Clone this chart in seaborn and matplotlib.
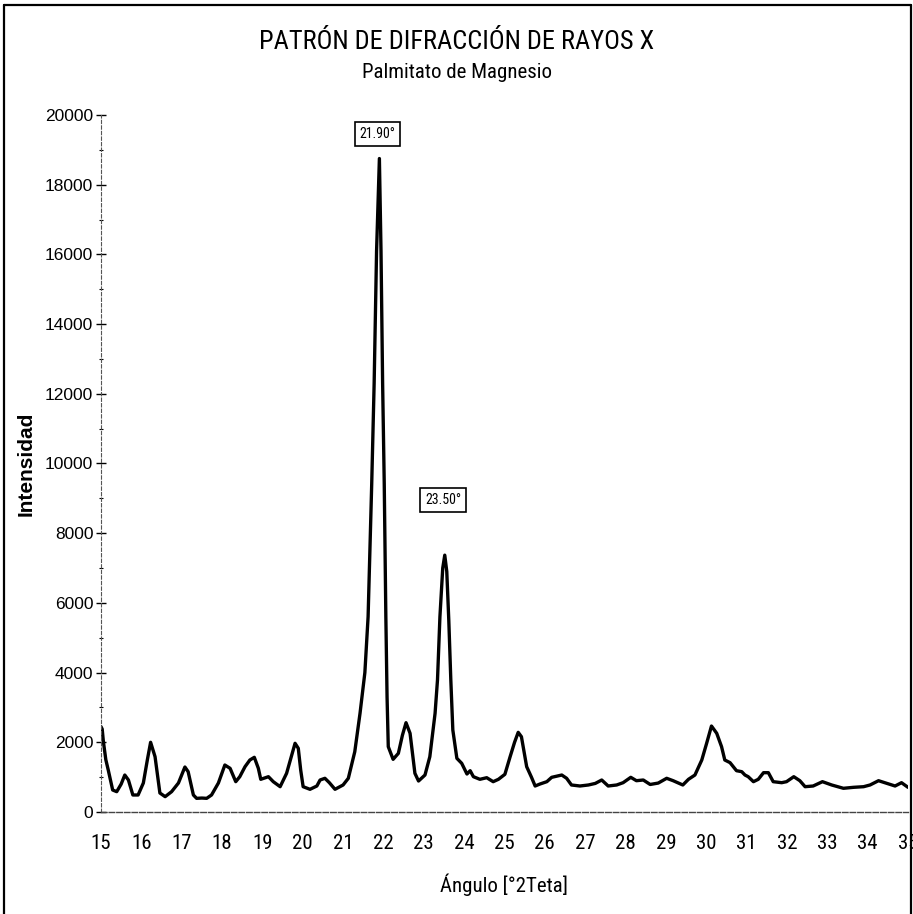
import matplotlib
matplotlib.use("Agg")
import matplotlib.pyplot as plt
from matplotlib import font_manager
from matplotlib.font_manager import FontProperties
from matplotlib.lines import Line2D
from matplotlib.ticker import MultipleLocator
import pandas as pd
import seaborn as sns

# Diffractogram of magnesium palmitate (2-theta in degrees, counts)
angulo = [
    15.00, 15.03, 15.06, 15.12, 15.18, 15.29, 15.39, 15.50, 15.59, 15.68,
    15.79, 15.92, 16.05, 16.15, 16.23, 16.34, 16.46, 16.59, 16.75, 16.92,
    17.08, 17.16, 17.29, 17.37, 17.50, 17.62, 17.74, 17.91, 18.07, 18.20,
    18.34, 18.44, 18.57, 18.69, 18.80, 18.90, 18.96, 19.15, 19.27, 19.44,
    19.60, 19.72, 19.81, 19.89, 19.95, 20.01, 20.18, 20.35, 20.43, 20.55,
    20.66, 20.80, 21.00, 21.13, 21.29, 21.42, 21.54, 21.62, 21.71, 21.77,
    21.83, 21.90, 21.94, 21.98, 22.02, 22.06, 22.09, 22.12, 22.24, 22.37,
    22.47, 22.56, 22.66, 22.78, 22.87, 23.03, 23.15, 23.28, 23.34, 23.40,
    23.47, 23.52, 23.57, 23.62, 23.67, 23.72, 23.82, 23.94, 24.07, 24.15,
    24.23, 24.39, 24.56, 24.72, 24.85, 25.01, 25.14, 25.25, 25.34, 25.42,
    25.55, 25.67, 25.76, 25.88, 26.05, 26.17, 26.30, 26.42, 26.54, 26.66,
    26.87, 27.08, 27.25, 27.41, 27.57, 27.78, 27.94, 28.13, 28.27, 28.44,
    28.61, 28.81, 29.02, 29.18, 29.42, 29.56, 29.72, 29.89, 30.01, 30.13,
    30.26, 30.38, 30.46, 30.59, 30.75, 30.88, 30.96, 31.04, 31.17, 31.29,
    31.42, 31.54, 31.66, 31.87, 31.99, 32.17, 32.32, 32.45, 32.65, 32.88,
    33.11, 33.40, 33.65, 33.90, 34.06, 34.27, 34.47, 34.68, 34.84, 35.00,
]
intensidad = [
    2450, 2380, 2017, 1500, 1205, 631, 583, 800, 1061, 918,
    488, 488, 832, 1500, 2000, 1587, 545, 440, 583, 832,
    1291, 1157, 488, 392, 400, 392, 488, 832, 1348, 1253,
    870, 1013, 1300, 1492, 1569, 1253, 938, 1013, 870, 726,
    1110, 1600, 1971, 1827, 1200, 726, 651, 746, 918, 967,
    841, 651, 775, 967, 1730, 2832, 4000, 5600, 9430, 12300,
    16100, 18750, 16100, 12300, 9430, 5600, 3300, 1874, 1511, 1683,
    2200, 2562, 2258, 1110, 889, 1061, 1587, 2832, 3790, 5600,
    7000, 7370, 6900, 5500, 3790, 2352, 1540, 1397, 1090, 1185,
    1013, 938, 984, 870, 938, 1081, 1587, 2000, 2286, 2160,
    1300, 995, 746, 803, 870, 995, 1030, 1061, 967, 775,
    746, 775, 820, 918, 746, 775, 841, 995, 898, 918,
    790, 830, 967, 898, 775, 938, 1061, 1492, 1971, 2467,
    2258, 1874, 1492, 1416, 1185, 1157, 1061, 1013, 870, 938,
    1128, 1128, 870, 841, 870, 1013, 898, 726, 746, 870,
    775, 680, 708, 726, 775, 898, 823, 746, 841, 708,
]

# Labelled reflections
picos_angulo = [21.90, 23.50]
picos_texto = ["21.90°", "23.50°"]
picos_y_caja = [19450, 8950]
picos_x_caja = [21.85, 23.48]

x_ticks = list(range(15, 36))
y_ticks = list(range(0, 20001, 2000))

titulo = "PATRÓN DE DIFRACCIÓN DE RAYOS X"
subtitulo = "Palmitato de Magnesio"
etiqueta_x = "Ángulo [°2Teta]"
etiqueta_y = "Intensidad"

sns.set_theme(style="white")
plt.rcParams["font.family"] = ["Liberation Sans", "DejaVu Sans"]


def narrow_font_file():
    """Pick an upright, regular-weight condensed sans face if one is installed."""
    preferred = ["Liberation Sans Narrow", "Arial Narrow", "Roboto Condensed",
                 "Open Sans Condensed", "Noto Sans", "Open Sans", "Roboto",
                 "DejaVu Sans"]
    found = []
    for f in font_manager.fontManager.ttflist:
        label = (f.name + " " + f.fname).lower()
        condensed = (f.stretch in ("condensed", "semi-condensed", "extra-condensed")
                     or "narrow" in label or "condensed" in label)
        if not condensed or f.style != "normal":
            continue
        w = f.weight if isinstance(f.weight, int) else 400
        if w != 400:
            continue
        rank_width = 1 if ("semi" in label or "extra" in label or "ultra" in label) else 0
        rank_fam = next((i for i, p in enumerate(preferred) if f.name == p), len(preferred))
        found.append((rank_fam, rank_width, f.fname))
    if found:
        found.sort()
        return found[0][2]
    return None


_nf = narrow_font_file()
if _nf:
    def fp(size):
        return FontProperties(fname=_nf, size=size)
    narrow_scale = 1.0
else:
    def fp(size):
        return FontProperties(family=["Liberation Sans", "DejaVu Sans"], size=size)
    narrow_scale = 0.8

df = pd.DataFrame({"angulo": angulo, "intensidad": intensidad})

fig = plt.figure(figsize=(9.13, 9.14), dpi=100)
ax = fig.add_axes([0.1106, 0.1116, 0.8839, 0.7626])

sns.lineplot(data=df, x="angulo", y="intensidad", color="black", lw=2.4, ax=ax)

ax.set_xlim(15, 35)
ax.set_ylim(0, 20000)
ax.set_xticks(x_ticks)
ax.set_yticks(y_ticks)
ax.yaxis.set_minor_locator(MultipleLocator(1000))
ax.set_xticklabels([str(t) for t in x_ticks], color="black",
                   fontproperties=fp(15 * narrow_scale))
ax.set_yticklabels([str(t) for t in y_ticks], fontsize=12.5, color="black",
                   family=["Liberation Sans", "DejaVu Sans"])
ax.tick_params(axis="x", length=0, pad=16)
ax.tick_params(axis="y", which="major", direction="inout", length=7, width=1.0,
               color="black", pad=2, left=True)
ax.tick_params(axis="y", which="minor", direction="inout", length=3, width=0.8,
               color="black", left=True)

for side in ("top", "right"):
    ax.spines[side].set_visible(False)
ax.spines["left"].set_color("#555555")
ax.spines["left"].set_linewidth(0.8)
ax.spines["left"].set_linestyle((0, (3, 2)))
ax.spines["bottom"].set_color("#444444")
ax.spines["bottom"].set_linewidth(1.0)
ax.spines["bottom"].set_linestyle((0, (4, 1.5)))

ax.set_xlabel(etiqueta_x, color="black", va="center",
              fontproperties=fp(15 * narrow_scale))
ax.xaxis.set_label_coords(0.5, -0.105)
ax.set_ylabel(etiqueta_y, fontsize=15, fontweight="bold", color="black", va="center",
              family=["Liberation Sans", "DejaVu Sans"])
ax.yaxis.set_label_coords(-0.093, 0.5)

for xc, yc, txt in zip(picos_x_caja, picos_y_caja, picos_texto):
    ax.text(xc, yc, txt, ha="center", va="center", color="black",
            fontproperties=fp(10 * narrow_scale),
            bbox=dict(boxstyle="square,pad=0.35", fc="white", ec="black", lw=1.2))

fig.text(0.5, 1 - 42 / 914, titulo, ha="center", va="center", color="black",
         fontproperties=fp(19 * narrow_scale))
fig.text(0.5, 1 - 72 / 914, subtitulo, ha="center", va="center", color="black",
         fontproperties=fp(15 * narrow_scale))

# frame around the sheet
for xs, ys in (([0.004, 0.004], [0.0, 0.995]),
               ([0.004, 0.998], [0.995, 0.995]),
               ([0.998, 0.998], [0.0, 0.995])):
    fig.add_artist(Line2D(xs, ys, transform=fig.transFigure, color="black", lw=1.6))

fig.savefig("out.png", dpi=100, facecolor="white")
